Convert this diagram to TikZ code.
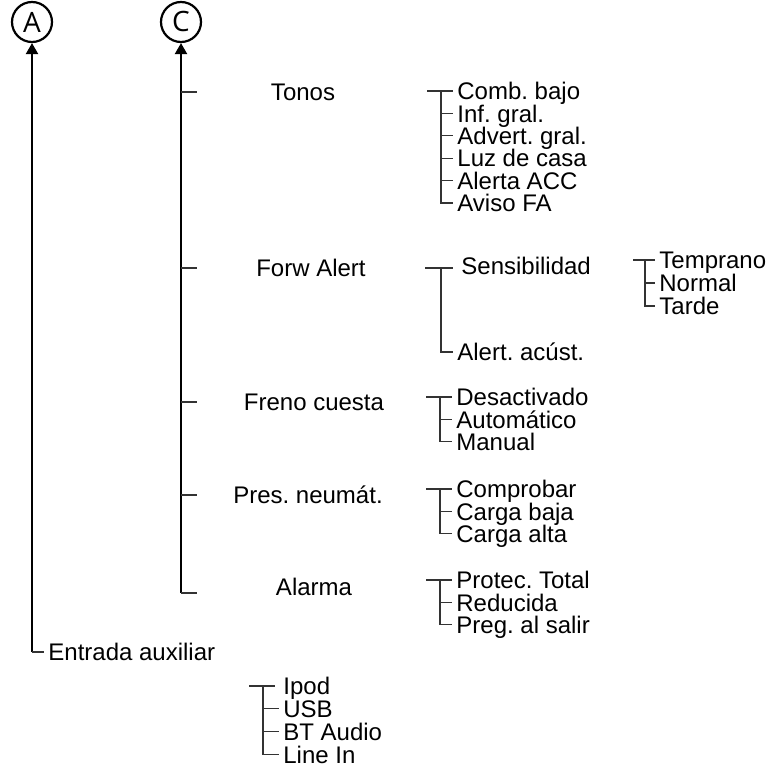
\documentclass[tikz,border=0pt]{standalone}
\usepackage{fontspec}
\setmainfont{Liberation Sans}
\newfontfamily\circfont{Open Sans}
\usetikzlibrary{arrows.meta}

\tikzset{
  mainline/.style={line width=1.1pt, -{Triangle[width=6pt,length=5.5pt]}},
  brk/.style={line width=0.6pt, draw=black!80},
  menu/.style={inner sep=0pt, text height=8.6pt, text depth=0pt, font=\fontsize{12}{13}\selectfont},
  item/.style={menu, anchor=west},
  head/.style={menu, anchor=center},
  letter/.style={circle, draw, line width=1.1pt, minimum size=20pt, inner sep=0pt, font=\circfont\fontsize{14}{14}\selectfont}
}

\begin{document}
\frenchspacing
\begin{tikzpicture}[x=0.5pt,y=-0.5pt]
\useasboundingbox (0,0) rectangle (771,781);

% the two return lines
\node[letter] (A) at (32,22) {A};
\node[letter] (C) at (181,22) {C};
\coordinate (abot) at (32,652);
\coordinate (cbot) at (181,593);
\draw[mainline] (abot) -- (A);
\draw[mainline] (cbot) -- (C);

% first level
\foreach \name/\txt/\x/\y in {tonos/Tonos/303/92, forw/Forw Alert/311/268, freno/Freno cuesta/314/402, pres/Pres. neum\'at./308/495, alarma/Alarma/314/587}
  \node[head] (\name) at (\x,\y) {\txt};
\foreach \name in {tonos,forw,freno,pres}
  \draw[brk] (\name -| cbot) -- ++(16,0);
\draw[brk] (cbot) -- ++(16,0);

\node[item] (entrada) at (48,652) {Entrada auxiliar};
\draw[brk] (abot) -- ([xshift=-2pt]entrada.west);

% Tonos
\foreach \name/\txt [count=\i from 0] in {comb/Comb. bajo, inf/Inf. gral., adv/Advert. gral., luz/Luz de casa, acc/Alerta ACC, fa/Aviso FA}
  \node[item] (\name) at (457,91+22.4*\i) {\txt};
\draw[brk] ([xshift=-15pt]comb.west) -- ([xshift=-2pt]comb.west);
\draw[brk] ([xshift=-8pt]comb.west) |- ([xshift=-2pt]fa.west);
\foreach \name in {inf,adv,luz,acc}
  \draw[brk] ([xshift=-8pt]\name.west) -- ([xshift=-2pt]\name.west);

% Forw Alert
\node[item] (sens) at (461,266) {Sensibilidad};
\node[item] (acust) at (457,352) {Alert. ac\'ust.};
\draw[brk] ([xshift=-16pt]acust.west |- forw) -- ([xshift=-4pt]sens.west |- forw);
\draw[brk] ([xshift=-8pt]acust.west |- forw) |- ([xshift=-2pt]acust.west);

\foreach \name/\txt [count=\i from 0] in {temp/Temprano, norm/Normal, tarde/Tarde}
  \node[item] (\name) at (659,260+23*\i) {\txt};
\draw[brk] ([xshift=-13pt]temp.west) -- ([xshift=-2pt]temp.west);
\draw[brk] ([xshift=-7pt]temp.west) |- ([xshift=-2pt]tarde.west);
\draw[brk] ([xshift=-7pt]norm.west) -- ([xshift=-2pt]norm.west);

% Freno cuesta
\foreach \name/\txt [count=\i from 0] in {desac/Desactivado, auto/Autom\'atico, manual/Manual}
  \node[item] (\name) at (456,397+22.4*\i) {\txt};
\draw[brk] ([xshift=-15pt]desac.west) -- ([xshift=-2pt]desac.west);
\draw[brk] ([xshift=-8pt]desac.west) |- ([xshift=-2pt]manual.west);
\draw[brk] ([xshift=-8pt]auto.west) -- ([xshift=-2pt]auto.west);

% Pres. neumat.
\foreach \name/\txt [count=\i from 0] in {compr/Comprobar, baja/Carga baja, alta/Carga alta}
  \node[item] (\name) at (456,489+22.4*\i) {\txt};
\draw[brk] ([xshift=-15pt]compr.west) -- ([xshift=-2pt]compr.west);
\draw[brk] ([xshift=-8pt]compr.west) |- ([xshift=-2pt]alta.west);
\draw[brk] ([xshift=-8pt]baja.west) -- ([xshift=-2pt]baja.west);

% Alarma
\foreach \name/\txt [count=\i from 0] in {total/Protec. Total, reduc/Reducida, salir/Preg. al salir}
  \node[item] (\name) at (456,580+22.4*\i) {\txt};
\draw[brk] ([xshift=-15pt]total.west) -- ([xshift=-2pt]total.west);
\draw[brk] ([xshift=-8pt]total.west) |- ([xshift=-2pt]salir.west);
\draw[brk] ([xshift=-8pt]reduc.west) -- ([xshift=-2pt]reduc.west);

% Entrada auxiliar
\foreach \name/\txt [count=\i from 0] in {ipod/Ipod, usb/USB, bt/BT Audio, linein/Line In}
  \node[item] (\name) at (283,686+22.8*\i) {\txt};
\draw[brk] ([xshift=-17pt]ipod.west) -- ([xshift=-4pt]ipod.west);
\draw[brk] ([xshift=-10pt]ipod.west) |- ([xshift=-2pt]linein.west);
\foreach \name in {usb,bt}
  \draw[brk] ([xshift=-10pt]\name.west) -- ([xshift=-2pt]\name.west);
\end{tikzpicture}
\end{document}
